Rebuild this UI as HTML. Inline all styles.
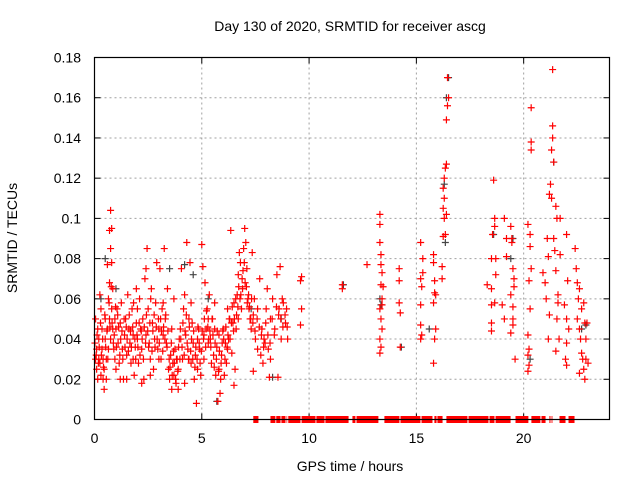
<!DOCTYPE html>
<html><head><meta charset="utf-8"><style>
body{margin:0;background:#fff;}
svg{display:block;font-family:"Liberation Sans",sans-serif;}
</style></head><body>
<svg id="chart" width="640" height="480">
<rect width="640" height="480" fill="#fff"/>
<text x="350" y="31" font-size="14" text-anchor="middle" fill="#000">Day 130 of 2020, SRMTID for receiver ascg</text>
<text transform="translate(17,238) rotate(-90)" font-size="14" text-anchor="middle">SRMTID / TECUs</text>
<text x="350" y="471" font-size="14" text-anchor="middle">GPS time / hours</text>
<g id="grid"></g><g id="ticks"></g><g id="marks"></g>
<rect x="94.5" y="57.5" width="515" height="362" fill="none" stroke="#000" stroke-width="1.2"/>
</svg>
<script>
const xTicks=[0,5,10,15,20];
const yTicks=[0,0.02,0.04,0.06,0.08,0.1,0.12,0.14,0.16,0.18];
const yTickLabels=["0","0.02","0.04","0.06","0.08","0.1","0.12","0.14","0.16","0.18"];
const redT=[0.05,0.05,0.1,0.1,0.15,0.15,0.2,0.2,0.25,0.25,0.3,0.3,0.35,0.35,0.4,0.4,0.45,0.45,0.5,0.5,0.55,0.55,0.6,0.6,0.65,0.65,0.7,0.7,0.7,0.75,0.75,0.75,0.8,0.8,0.8,0.85,0.85,0.9,0.95,0.95,
1.0,1.0,1.05,1.1,1.15,1.2,1.25,1.3,1.35,1.4,1.45,1.5,1.55,1.6,1.65,1.7,1.75,1.8,1.85,1.9,1.95,1.95,1.5,1.2,1.8,
2.0,2.05,2.1,2.15,2.2,2.25,2.3,2.35,2.4,2.45,2.5,2.55,2.6,2.65,2.7,2.75,2.8,2.85,2.9,2.95,2.2,2.6,2.4,2.0,
3.0,3.05,3.1,3.15,3.2,3.25,3.3,3.35,3.4,3.45,3.5,3.55,3.6,3.65,3.7,3.75,3.8,3.85,3.9,3.95,3.6,3.7,3.9,3.2,3.0,
4.0,4.05,4.1,4.15,4.2,4.25,4.3,4.35,4.4,4.45,4.5,4.55,4.6,4.65,4.7,4.75,4.8,4.85,4.9,4.95,4.5,4.2,4.8,4.4,
5.0,5.05,5.1,5.15,5.2,5.25,5.3,5.35,5.4,5.45,5.5,5.55,5.6,5.65,5.7,5.75,5.8,5.85,5.9,5.95,5.3,5.6,5.8,5.1,
6.0,6.05,6.1,6.15,6.2,6.25,6.3,6.35,6.4,6.45,6.5,6.55,6.6,6.65,6.7,6.75,6.8,6.85,6.9,6.95,6.5,6.2,6.7,
7.0,7.05,7.1,7.15,7.2,7.25,7.3,7.35,7.4,7.45,7.5,7.6,7.7,7.75,7.8,7.85,7.9,7.95,7.4,7.6,
8.0,8.05,8.1,8.15,8.2,8.3,8.4,8.5,8.55,8.6,8.65,8.7,8.8,8.9,8.95,9.0,8.2,8.75,
9.6,9.65,9.65,9.6,11.55,11.55,12.7,
13.3,13.3,13.3,13.35,13.35,13.4,13.35,13.4,13.3,13.35,13.4,13.3,13.35,13.3,13.4,13.45,
14.2,14.2,14.2,14.25,14.25,
15.2,15.3,15.3,15.2,15.25,15.2,15.2,15.25,15.2,
15.8,15.8,15.85,15.85,15.9,15.8,15.9,15.85,15.8,
16.2,16.2,16.25,16.3,16.25,16.3,16.25,16.3,16.35,16.4,16.4,16.45,16.5,16.45,16.4,16.35,
18.3,18.5,18.5,18.5,18.5,18.6,18.55,18.65,18.65,18.7,18.7,18.65,18.5,
19.1,19.2,19.1,19.2,19.4,19.45,19.45,19.5,19.55,19.4,19.5,19.5,19.4,19.5,19.6,19.55,19.0,
20.2,20.3,20.3,20.35,20.25,20.3,20.2,20.25,20.2,20.25,20.2,20.35,20.35,20.35,
20.9,21.0,21.05,21.1,21.15,21.2,21.15,21.2,21.25,21.3,21.3,21.35,21.35,21.4,21.35,21.4,21.45,21.5,21.55,21.5,21.6,21.6,21.55,21.5,21.65,21.7,21.7,
21.9,22.0,22.0,22.05,22.1,22.0,21.95,22.0,
22.4,22.45,22.5,22.55,22.5,22.6,22.6,22.65,22.7,22.6,22.8,22.75,22.8,22.85,22.85,22.9,22.9,23.0,22.95,22.7];
const redV=[.03,.05,.025,.035,.045,.02,.03,.04,.062,.028,.055,.022,.045,.035,.02,.03,.015,.025,.04,.05,.03,.02,.077,.045,.06,.035,.094,.068,.05,.104,.085,.04,.095,.078,.055,.065,.045,.035,.05,.03,
.045,.025,.055,.038,.028,.048,.058,.035,.02,.042,.05,.032,.062,.045,.038,.028,.055,.042,.022,.036,.048,.065,.02,.02,.03,
.04,.028,.06,.045,.035,.05,.02,.07,.042,.085,.055,.038,.03,.065,.048,.025,.04,.058,.078,.035,.018,.022,.075,.055,
.045,.075,.03,.055,.042,.085,.05,.038,.065,.025,.02,.032,.015,.028,.022,.035,.018,.03,.025,.04,.045,.06,.015,.058,.03,
.045,.075,.03,.055,.062,.042,.088,.035,.05,.078,.028,.048,.038,.02,.032,.008,.025,.045,.035,.022,.058,.018,.04,.03,
.087,.076,.03,.068,.045,.055,.038,.062,.04,.028,.05,.032,.045,.022,.036,.009,.042,.013,.028,.038,.05,.058,.025,.042,
.045,.022,.038,.028,.055,.04,.05,.094,.033,.048,.058,.025,.045,.062,.072,.083,.078,.055,.065,.085,.017,.035,.05,
.095,.088,.075,.06,.055,.05,.045,.083,.024,.06,.04,.055,.07,.032,.045,.028,.04,.038,.052,.035,
.055,.065,.035,.021,.05,.06,.045,.072,.021,.055,.076,.04,.058,.048,.055,.04,.03,.06,
.069,.071,.055,.047,.067,.065,.077,
.102,.097,.088,.082,.077,.073,.067,.06,.055,.05,.045,.04,.036,.033,.057,.066,
.075,.069,.058,.053,.036,
.088,.08,.073,.07,.066,.057,.047,.042,.04,
.082,.078,.069,.063,.062,.058,.045,.04,.028,
.076,.07,.091,.1,.105,.11,.115,.12,.125,.127,.149,.156,.16,.17,.102,.092,
.067,.065,.057,.048,.044,.119,.092,.1,.096,.08,.072,.058,.08,
.1,.09,.05,.081,.096,.09,.088,.075,.066,.062,.056,.05,.043,.047,.03,.07,.057,
.097,.092,.086,.075,.069,.055,.042,.035,.032,.027,.024,.138,.134,.155,
.073,.068,.06,.09,.081,.052,.04,.112,.117,.11,.134,.14,.146,.128,.174,.09,.084,.106,.1,.074,.062,.058,.05,.034,.04,.1,.082,
.057,.092,.05,.069,.045,.038,.03,.027,
.085,.075,.068,.06,.05,.065,.045,.04,.033,.023,.058,.03,.025,.02,.048,.03,.04,.028,.048,.055];
// additional dense-cloud points for 0-9 h
const redT2=[0.02,0.08,0.12,0.18,0.22,0.28,0.32,0.38,0.42,0.48,0.52,0.58,0.62,0.68,0.72,0.78,0.82,0.88,0.92,0.98,
1.02,1.08,1.12,1.18,1.22,1.28,1.32,1.38,1.42,1.48,1.52,1.58,1.62,1.68,1.72,1.78,1.82,1.88,1.92,1.98,
2.02,2.08,2.12,2.18,2.22,2.28,2.32,2.38,2.42,2.48,2.52,2.58,2.62,2.68,2.72,2.78,2.82,2.88,2.92,2.98,
3.02,3.08,3.12,3.18,3.22,3.28,3.32,3.38,3.42,3.48,3.52,3.58,3.62,3.68,3.72,3.78,3.82,3.88,3.92,3.98,
4.02,4.08,4.12,4.18,4.22,4.28,4.32,4.38,4.42,4.48,4.52,4.58,4.62,4.68,4.72,4.78,4.82,4.88,4.92,4.98,
5.02,5.08,5.12,5.18,5.22,5.28,5.32,5.38,5.42,5.48,5.52,5.58,5.62,5.68,5.72,5.78,5.82,5.88,5.92,5.98,
6.02,6.08,6.12,6.18,6.22,6.28,6.32,6.38,6.42,6.48,6.52,6.58,6.62,6.68,6.72,6.78,6.82,6.88,6.92,6.98,
7.02,7.08,7.12,7.18,7.22,7.28,7.32,7.38,7.48,7.58,7.68,7.78,7.88,7.98,8.08,8.18,8.28,8.38,8.48,8.58,8.68,8.78,8.88,8.98];
const redV2=[.038,.032,.042,.028,.036,.048,.032,.04,.026,.052,.036,.044,.03,.058,.046,.066,.048,.038,.042,.056,
.036,.052,.046,.032,.04,.044,.03,.05,.036,.046,.04,.034,.052,.044,.036,.046,.058,.04,.03,.042,
.036,.048,.032,.044,.04,.03,.046,.038,.052,.044,.036,.048,.06,.034,.044,.052,.036,.046,.04,.05,
.038,.05,.044,.034,.046,.04,.052,.036,.044,.03,.026,.038,.022,.034,.028,.02,.03,.024,.036,.03,
.04,.036,.048,.032,.044,.052,.038,.03,.046,.034,.04,.03,.044,.026,.036,.03,.046,.038,.028,.034,
.044,.04,.05,.036,.054,.046,.04,.044,.036,.05,.042,.026,.038,.03,.044,.024,.034,.02,.032,.044,
.04,.03,.046,.036,.042,.05,.04,.048,.056,.044,.05,.06,.052,.056,.066,.06,.062,.07,.074,.078,
.068,.066,.058,.062,.056,.05,.06,.048,.044,.05,.046,.042,.036,.048,.042,.038,.05,.042,.056,.052,.05,.046,.052,.046];
const blackT=[0.3,0.5,1.0,3.5,4.2,4.6,5.3,5.7,7.3,8.3,8.7,11.6,13.3,13.35,14.3,15.6,16.3,16.4,16.5,16.35,18.6,19.4,19.5,20.3,21.4,22.7,22.9];
const blackV=[.06,.08,.065,.075,.077,.072,.06,.009,.055,.021,.05,.067,.06,.057,.036,.045,.117,.16,.17,.088,.092,.08,.09,.03,.128,.045,.047];
const zeroStart=[7.40,8.20,8.47,8.71,8.95,9.03,9.65,10.34,10.76,12.02,12.21,13.51,14.26,15.24,15.84,15.98,16.40,17.43,18.41,18.69,19.62,20.36,20.83,21.20,21.30,21.67,22.09];
const zeroEnd=[7.64,8.43,8.67,8.90,8.98,9.60,10.30,10.72,11.84,12.16,13.23,14.21,15.19,15.75,15.94,16.22,17.38,18.36,18.64,19.39,20.22,20.78,21.02,21.25,21.34,21.95,22.37];

const X0=94.5,X1=609.5,Y0=419.5,Y1=57.5;
const xs=h=>X0+h/24*(X1-X0);
const ys=v=>Y0-v/0.18*(Y0-Y1);
const NS="http://www.w3.org/2000/svg";
function mk(tag,attrs,parent){const e=document.createElementNS(NS,tag);for(const k in attrs)e.setAttribute(k,attrs[k]);parent.appendChild(e);return e;}
const grid=document.getElementById('grid'),ticks=document.getElementById('ticks'),marks=document.getElementById('marks');
xTicks.forEach(t=>{
  const x=xs(t);
  if(t>0){const g=mk('line',{x1:x,x2:x,y1:Y1,y2:Y0,stroke:'#a0a0a0','stroke-dasharray':'2,3'},grid);
  
  }
  mk('line',{x1:x,x2:x,y1:Y0,y2:Y0-6,stroke:'#000'},ticks);
  mk('line',{x1:x,x2:x,y1:Y1,y2:Y1+6,stroke:'#000'},ticks);
  const l=mk('text',{x:x,y:443,'font-size':14,'text-anchor':'middle'},ticks);l.textContent=t;
  
  
});
yTicks.forEach((v,i)=>{
  const y=ys(v);
  if(i>0&&i<yTicks.length-1){const g=mk('line',{x1:X0,x2:X1,y1:y,y2:y,stroke:'#a0a0a0','stroke-dasharray':'2,3'},grid);
  
  }
  mk('line',{x1:X0,x2:X0+6,y1:y,y2:y,stroke:'#000'},ticks);
  mk('line',{x1:X1,x2:X1-6,y1:y,y2:y,stroke:'#000'},ticks);
  const l=mk('text',{x:81,y:y+5,'font-size':14,'text-anchor':'end'},ticks);l.textContent=yTickLabels[i];
  
  
});
function plus(t,v,color,name){
  const x=xs(t),y=ys(v);
  const p=mk('path',{d:`M${x-3.5},${y}H${x+3.5}M${x},${y-3.5}V${y+3.5}`,stroke:color,'stroke-width':1.2,fill:'none'},marks);
  
  
}
blackT.forEach((t,i)=>plus(t,blackV[i],'#444','black-point'));
redT.forEach((t,i)=>plus(t,redV[i],'#ff0000','red-point'));
redT2.forEach((t,i)=>plus(t,redV2[i],'#ff0000','red-point'));
zeroStart.forEach((s,i)=>{
  const r=mk('rect',{x:xs(s),y:Y0-3.5,width:xs(zeroEnd[i])-xs(s),height:7,fill:'#ff0000'},marks);
  
  
});
</script>
</body></html>
